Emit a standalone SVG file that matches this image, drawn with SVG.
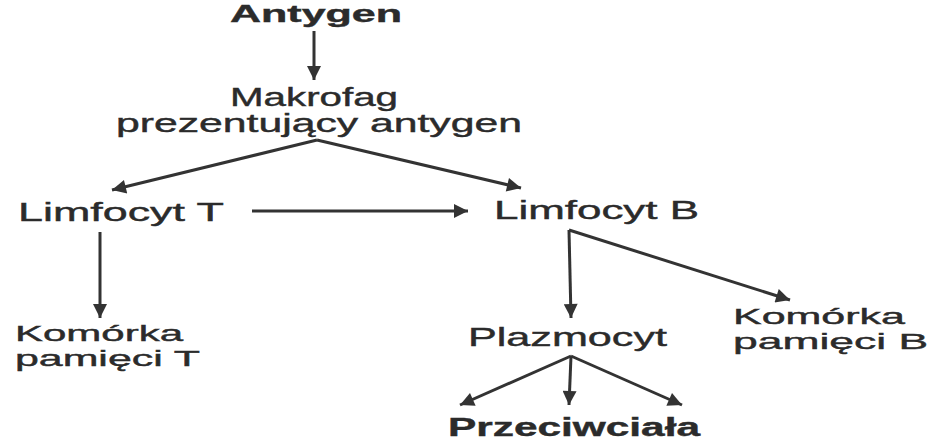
<svg xmlns="http://www.w3.org/2000/svg" width="932" height="440" viewBox="0 0 932 440">
<style>
text{font-family:"Liberation Sans",Arial,sans-serif;font-size:25px;fill:#2b2b2b;stroke:#2b2b2b;stroke-width:0.4}
.b{font-weight:bold}
.a{font-size:23px}
.s{font-size:22px}
.c line{stroke:#333;stroke-width:3}
</style>
<defs>
<marker id="ah" viewBox="0 0 10 10" refX="10" refY="5" markerUnits="userSpaceOnUse" markerWidth="18" markerHeight="14" orient="auto">
<path d="M0,0L10,5L0,10z" fill="#333"/>
</marker>
</defs>
<rect width="932" height="440" fill="#fff"/>
<g class="c">
<line x1="314" y1="31" x2="314" y2="80" marker-end="url(#ah)"/>
<line x1="317" y1="140" x2="112" y2="190" marker-end="url(#ah)"/>
<line x1="317" y1="140" x2="521" y2="188" marker-end="url(#ah)"/>
<line x1="252" y1="211" x2="468" y2="211" marker-end="url(#ah)"/>
<line x1="100" y1="232" x2="100" y2="318" marker-end="url(#ah)"/>
<line x1="569" y1="230" x2="571" y2="318" marker-end="url(#ah)"/>
<line x1="569" y1="230" x2="790" y2="300" marker-end="url(#ah)"/>
<line x1="571" y1="356" x2="460" y2="405" marker-end="url(#ah)"/>
<line x1="571" y1="356" x2="569" y2="405" marker-end="url(#ah)"/>
<line x1="571" y1="356" x2="682" y2="405" marker-end="url(#ah)"/>
</g>
<g id="antygen"><text class="b a" x="230" y="22" textLength="172" lengthAdjust="spacingAndGlyphs">Antygen</text></g>
<g id="makrofag"><text x="230" y="106" textLength="168" lengthAdjust="spacingAndGlyphs">Makrofag</text><text x="116" y="132" textLength="406" lengthAdjust="spacingAndGlyphs">prezentujący antygen</text></g>
<g id="limfT"><text x="18" y="221" textLength="206" lengthAdjust="spacingAndGlyphs">Limfocyt T</text></g>
<g id="limfB"><text x="494" y="219" textLength="205" lengthAdjust="spacingAndGlyphs">Limfocyt B</text></g>
<g id="komT"><text class="s" x="15" y="341" textLength="168" lengthAdjust="spacingAndGlyphs">Komórka</text><text class="s" x="15" y="366" textLength="185" lengthAdjust="spacingAndGlyphs">pamięci T</text></g>
<g id="komB"><text class="s" x="733" y="324" textLength="172" lengthAdjust="spacingAndGlyphs">Komórka</text><text class="s" x="733" y="349" textLength="195" lengthAdjust="spacingAndGlyphs">pamięci B</text></g>
<g id="plazmocyt"><text x="468" y="346" textLength="199" lengthAdjust="spacingAndGlyphs">Plazmocyt</text></g>
<g id="przeciwciala"><text class="b" x="448" y="436" textLength="252" lengthAdjust="spacingAndGlyphs">Przeciwciała</text></g>
</svg>
